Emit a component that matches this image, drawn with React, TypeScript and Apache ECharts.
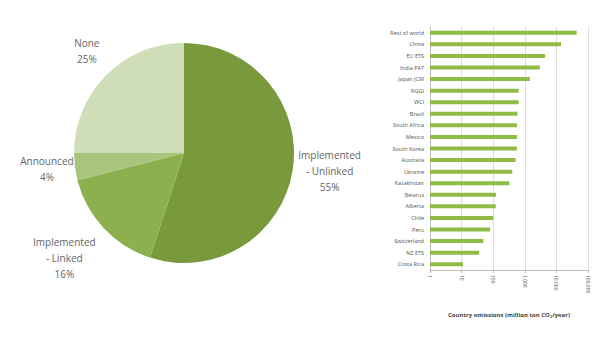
import React, { useEffect, useRef } from "react";
import * as echarts from "echarts";

const pieNames = ["Implemented\n- Unlinked", "Implemented\n- Linked", "Announced", "None"];
const pieValues = [55, 16, 4, 25];
const pieColors = ["#789a3d", "#8db04e", "#a9c57c", "#cfdeb8"];

const countries = [
  "Rest of world", "China", "EU ETS", "India PAT", "Japan JCM", "RGGI", "WCI", "Brazil",
  "South Africa", "Mexico", "South Korea", "Australia", "Ukraine", "Kazakhstan", "Belarus",
  "Alberta", "Chile", "Peru", "Switzerland", "NZ ETS", "Costa Rica",
];
const emissions = [
  43700, 14000, 4400, 3000, 1450, 640, 640, 590, 565, 565, 560, 515, 400, 325, 123, 120,
  100, 80, 49, 36, 11,
];
const xTicks = [1, 10, 100, 1000, 10000, 100000];

export default function App() {
  const ref = useRef<HTMLDivElement>(null);
  useEffect(() => {
    if (!ref.current) return;
    const chart = echarts.init(ref.current, undefined, { renderer: "svg" });
    const labelDx = [-3, 0, 8, 20];
    const labelDy = [0, 28, 2, -23];
    chart.setOption({
      animation: false,
      backgroundColor: "#ffffff",
      textStyle: { fontFamily: "Open Sans" },
      grid: { left: 430, right: 12, top: 27, bottom: 69, containLabel: false },
      xAxis: {
        type: "log",
        logBase: 10,
        min: xTicks[0],
        max: xTicks[xTicks.length - 1],
        name: "Country emissions (million ton CO\u2082/year)",
        nameLocation: "middle",
        nameGap: 42,
        nameTextStyle: { fontSize: 6, color: "#444", fontWeight: "bold" },
        axisLine: { show: true, lineStyle: { color: "#bbbbbb" } },
        axisTick: { show: true, length: 3, lineStyle: { color: "#bbbbbb" } },
        splitLine: { show: true, lineStyle: { color: "#dddddd" } },
        axisLabel: { rotate: -90, fontSize: 5, color: "#555", margin: 5 },
      },
      yAxis: {
        type: "category",
        data: countries,
        inverse: true,
        axisLine: { show: true, lineStyle: { color: "#bbbbbb" } },
        axisTick: { show: false },
        axisLabel: { fontSize: 5.5, color: "#555", margin: 6 },
      },
      series: [
        {
          type: "bar",
          data: emissions,
          barWidth: 4,
          itemStyle: { color: "#8fbc45" },
        },
        {
          type: "pie",
          center: [184, 153],
          radius: 110,
          startAngle: 90,
          clockwise: true,
          data: pieNames.map((n, i) => ({ name: n, value: pieValues[i], itemStyle: { color: pieColors[i] } })),
          label: {
            show: true,
            position: "outside",
            formatter: (p: any) =>
              String(p.name)
                .split("\n")
                .concat([p.value + "%"])
                .map((s: string) => "{t|" + s + "}")
                .join("\n"),
            rich: {
              t: { fontSize: 10, lineHeight: 16, color: "#666", align: "center", width: 66, fontFamily: "Open Sans" },
            },
            overflow: "none",
          },
          labelLine: { show: false, length: 2, length2: 0 },
          labelLayout: (p: any) => ({ dx: labelDx[p.dataIndex], dy: labelDy[p.dataIndex] }),
          emphasis: { disabled: true },
        },
      ],
    });
    return () => chart.dispose();
  }, []);
  return (
    <div
      ref={ref}
      style={{ position: "fixed", left: 0, top: 0, width: 600, height: 339 }}
    />
  );
}
